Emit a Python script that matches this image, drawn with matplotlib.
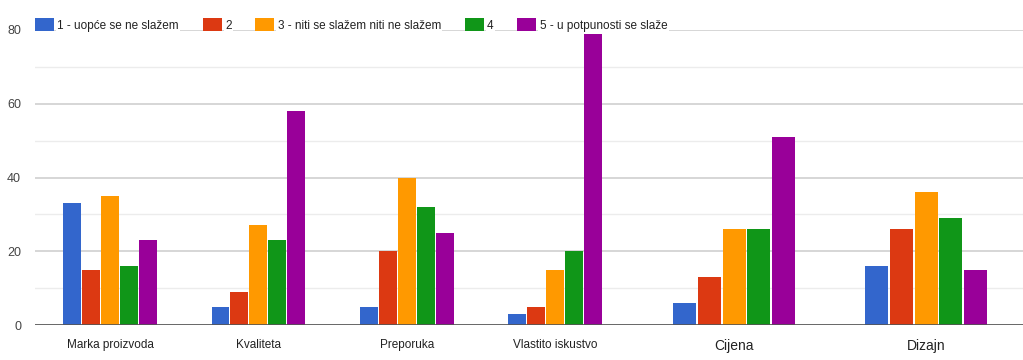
import matplotlib
matplotlib.use("Agg")
import matplotlib.pyplot as plt
import numpy as np
from matplotlib.ticker import MultipleLocator

categories = ["Marka proizvoda", "Kvaliteta", "Preporuka", "Vlastito iskustvo", "Cijena", "Dizajn"]
series_names = ["1 - uopće se ne slažem", "2", "3 - niti se slažem niti ne slažem", "4", "5 - u potpunosti se slaže"]
s1 = [33, 5, 5, 3, 6, 16]
s2 = [15, 9, 20, 5, 13, 26]
s3 = [35, 27, 40, 15, 26, 36]
s4 = [16, 23, 32, 20, 26, 29]
s5 = [23, 58, 25, 79, 51, 15]
yticks = [0, 20, 40, 60, 80]

colors = ["#3366CC", "#DC3912", "#FF9900", "#109618", "#990099"]
series = [s1, s2, s3, s4, s5]

fam = ["Liberation Sans Narrow", "Liberation Sans", "DejaVu Sans"]
plt.rcParams['font.family'] = fam

W, H = 1023, 360
fig = plt.figure(figsize=(W / 100, H / 100), dpi=100)
bottom = (H - 325) / H
height = (325 - 30) / H
axL = fig.add_axes([35 / W, bottom, (663 - 35) / W, height])
axR = fig.add_axes([663 / W, bottom, (1023 - 663) / W, height])

pitch = 0.128
width = 0.12
splits = [(axL, 0, 4, (-0.506, 3.728), 8.5), (axR, 4, 6, (-0.37, 1.505), 10)]
handles = []
for ax, a, b, xl, fs in splits:
    x = np.arange(b - a)
    for i, (vals, c) in enumerate(zip(series, colors)):
        h = ax.bar(x + (i - 2) * pitch, vals[a:b], width=width, color=c, zorder=3,
                   label=series_names[i])
        if ax is axL:
            handles.append(h)
    ax.set_xlim(*xl)
    ax.set_ylim(0, 80)
    ax.set_xticks(x)
    ax.set_xticklabels(categories[a:b], fontsize=fs, color="#222222")
    ax.tick_params(axis="x", length=0, pad=10)
    ax.yaxis.set_major_locator(MultipleLocator(20))
    ax.yaxis.set_minor_locator(MultipleLocator(10))
    ax.grid(axis="y", which="major", color="#d0d0d0", linewidth=1.2, zorder=0)
    ax.grid(axis="y", which="minor", color="#ececec", linewidth=1.0, zorder=0)
    ax.axhline(0, color="#555555", linewidth=1.2, zorder=4)
    for s in ax.spines.values():
        s.set_visible(False)
    ax.set_facecolor("none")

axL.set_yticks(yticks)
axL.set_yticklabels([str(v) for v in yticks], fontsize=9, color="#444444")
axL.tick_params(axis="y", which="both", length=0, pad=10)
axR.tick_params(axis="y", which="both", length=0, labelleft=False)

leg = fig.legend(handles=handles, loc="center left", bbox_to_anchor=(35 / W, 1 - 25 / H),
                 ncol=5, frameon=False, fontsize=8.5, handlelength=1.6, handleheight=1.3,
                 handletextpad=0.3, columnspacing=2.0, borderaxespad=0, borderpad=0)
for t in leg.get_texts():
    t.set_color("#222222")
    t.set_bbox(dict(facecolor="white", edgecolor="none", pad=1.0))

fig.savefig("out.png", dpi=100, facecolor="white")
